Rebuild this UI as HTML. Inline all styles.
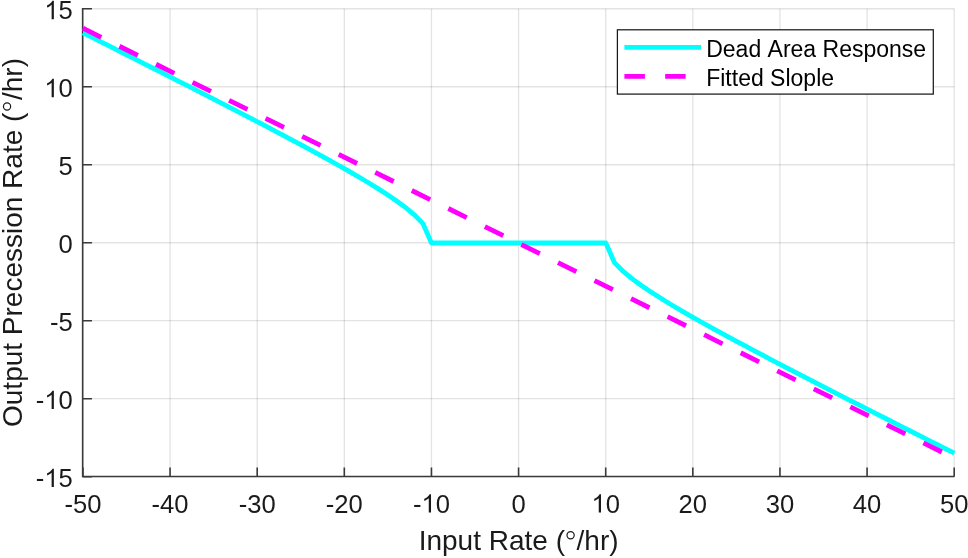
<!DOCTYPE html>
<html><head><meta charset="utf-8"><style>
html,body{margin:0;padding:0;background:#fff;}
svg{display:block;font-family:"Liberation Sans",sans-serif;will-change:transform;font-kerning:none;}
</style></head><body>
<svg width="968" height="558" viewBox="0 0 968 558">
<defs><path id="one" d="M763,0L583,0L583,1147Q518,1085 412,1023Q306,961 222,930L222,1104Q373,1175 486,1276Q599,1377 646,1472L763,1472Z"/></defs>
<rect width="968" height="558" fill="#fff"/>
<path d="M82.95,8.77V476.5M170.07,8.77V476.5M257.20,8.77V476.5M344.32,8.77V476.5M431.45,8.77V476.5M518.58,8.77V476.5M605.70,8.77V476.5M692.83,8.77V476.5M779.95,8.77V476.5M867.08,8.77V476.5M954.20,8.77V476.5" stroke="#262626" stroke-opacity="0.13" stroke-width="1.3" fill="none"/>
<path d="M82.65,476.69H954.2M82.65,398.70H954.2M82.65,320.72H954.2M82.65,242.73H954.2M82.65,164.74H954.2M82.65,86.76H954.2M82.65,8.77H954.2" stroke="#262626" stroke-opacity="0.13" stroke-width="1.3" fill="none"/>
<path d="M82.65,8.07V476.5H954.5" stroke="#3a3a3a" stroke-width="1.6" fill="none" stroke-linejoin="miter"/>
<path d="M82.95,476.5V467.60M170.07,476.5V467.60M257.20,476.5V467.60M344.32,476.5V467.60M431.45,476.5V467.60M518.58,476.5V467.60M605.70,476.5V467.60M692.83,476.5V467.60M779.95,476.5V467.60M867.08,476.5V467.60M954.20,476.5V467.60M82.65,476.69H91.95M82.65,398.70H91.95M82.65,320.72H91.95M82.65,242.73H91.95M82.65,164.74H91.95M82.65,86.76H91.95M82.65,8.77H91.95" stroke="#3a3a3a" stroke-width="1.6" fill="none"/>
<polyline points="82.90,32.82 91.62,37.20 100.33,41.58 109.04,45.97 117.76,50.36 126.47,54.76 135.19,59.16 143.90,63.57 152.62,67.99 161.33,72.41 170.05,76.83 178.76,81.27 187.48,85.71 196.19,90.16 204.91,94.63 213.62,99.10 222.34,103.58 231.06,108.07 239.77,112.58 248.48,117.11 257.20,121.65 265.91,126.21 274.63,130.79 283.34,135.40 292.06,140.03 300.77,144.70 309.49,149.40 318.20,154.14 326.92,158.93 335.63,163.77 344.35,168.69 353.06,173.69 361.78,178.79 370.50,184.02 379.21,189.41 387.92,195.03 396.64,200.96 405.35,207.36 414.07,214.54 422.78,223.34 431.50,243.00 440.21,243.00 448.93,243.00 457.64,243.00 466.36,243.00 475.07,243.00 483.79,243.00 492.50,243.00 501.22,243.00 509.94,243.00 518.65,243.00 527.37,243.00 536.08,243.00 544.79,243.00 553.51,243.00 562.23,243.00 570.94,243.00 579.65,243.00 588.37,243.00 597.09,243.00 605.80,243.00 614.51,262.66 623.23,271.46 631.94,278.64 640.66,285.04 649.38,290.97 658.09,296.59 666.80,301.98 675.52,307.21 684.24,312.31 692.95,317.31 701.66,322.23 710.38,327.07 719.10,331.86 727.81,336.60 736.52,341.30 745.24,345.97 753.95,350.60 762.67,355.21 771.38,359.79 780.10,364.35 788.82,368.89 797.53,373.42 806.24,377.93 814.96,382.42 823.67,386.90 832.39,391.37 841.11,395.84 849.82,400.29 858.53,404.73 867.25,409.17 875.96,413.59 884.68,418.01 893.39,422.43 902.11,426.84 910.83,431.24 919.54,435.64 928.25,440.03 936.97,444.42 945.68,448.80 954.40,453.18" fill="none" stroke="#00ffff" stroke-width="4.8" stroke-linejoin="round"/>
<polyline points="82.90,28.21 954.40,458.19" fill="none" stroke="#ff00ff" stroke-width="4.8" stroke-dasharray="20.5 20.25"/>
<g font-size="25.6" fill="#1a1a1a"><text x="64.45" y="512.60">-</text><text x="72.98" y="512.60">5</text><text x="87.21" y="512.60">0</text><text x="151.58" y="512.60">-</text><text x="160.10" y="512.60">4</text><text x="174.34" y="512.60">0</text><text x="238.70" y="512.60">-</text><text x="247.23" y="512.60">3</text><text x="261.46" y="512.60">0</text><text x="325.83" y="512.60">-</text><text x="334.35" y="512.60">2</text><text x="348.59" y="512.60">0</text><text x="412.95" y="512.60">-</text><use href="#one" transform="translate(421.48,512.60) scale(0.01250,-0.01250)"/><text x="435.71" y="512.60">0</text><text x="511.46" y="512.60">0</text><use href="#one" transform="translate(591.47,512.60) scale(0.01250,-0.01250)"/><text x="605.70" y="512.60">0</text><text x="678.59" y="512.60">2</text><text x="692.83" y="512.60">0</text><text x="765.72" y="512.60">3</text><text x="779.95" y="512.60">0</text><text x="852.84" y="512.60">4</text><text x="867.08" y="512.60">0</text><text x="939.97" y="512.60">5</text><text x="954.20" y="512.60">0</text><text x="35.81" y="487.09">-</text><use href="#one" transform="translate(44.33,487.09) scale(0.01250,-0.01250)"/><text x="58.57" y="487.09">5</text><text x="35.81" y="409.10">-</text><use href="#one" transform="translate(44.33,409.10) scale(0.01250,-0.01250)"/><text x="58.57" y="409.10">0</text><text x="50.04" y="331.12">-</text><text x="58.57" y="331.12">5</text><text x="58.57" y="253.13">0</text><text x="58.57" y="175.14">5</text><use href="#one" transform="translate(44.33,97.16) scale(0.01250,-0.01250)"/><text x="58.57" y="97.16">0</text><use href="#one" transform="translate(44.33,19.17) scale(0.01250,-0.01250)"/><text x="58.57" y="19.17">5</text></g>
<g font-size="28" fill="#1a1a1a">
<text x="418.7" y="549.5">Input Rate (</text>
<circle cx="570.6" cy="535.3" r="3.6" fill="none" stroke="#1a1a1a" stroke-width="1.2"/>
<text x="576.6" y="549.5">/hr)</text>
<g transform="translate(21.8,0) rotate(-90)">
<text x="-427.0" y="0">Output Precession Rate (</text>
<circle cx="-106.45" cy="-14.75" r="3.6" fill="none" stroke="#1a1a1a" stroke-width="1.2"/>
<text x="-100.0" y="0">/hr)</text>
</g>
</g>
<rect x="617.4" y="29.8" width="315.9" height="64.3" fill="#fff" stroke="#1a1a1a" stroke-width="1.25"/>
<line x1="624.4" y1="47.4" x2="701.1" y2="47.4" stroke="#00ffff" stroke-width="4.8"/>
<line x1="624.4" y1="76.4" x2="701.1" y2="76.4" stroke="#ff00ff" stroke-width="4.8" stroke-dasharray="20.5 20.25"/>
<g font-size="23.0" fill="#000">
<text x="706.2" y="56.6">Dead Area Response</text>
<text x="706.2" y="86.3">Fitted Slople</text>
</g>
</svg>
</body></html>
